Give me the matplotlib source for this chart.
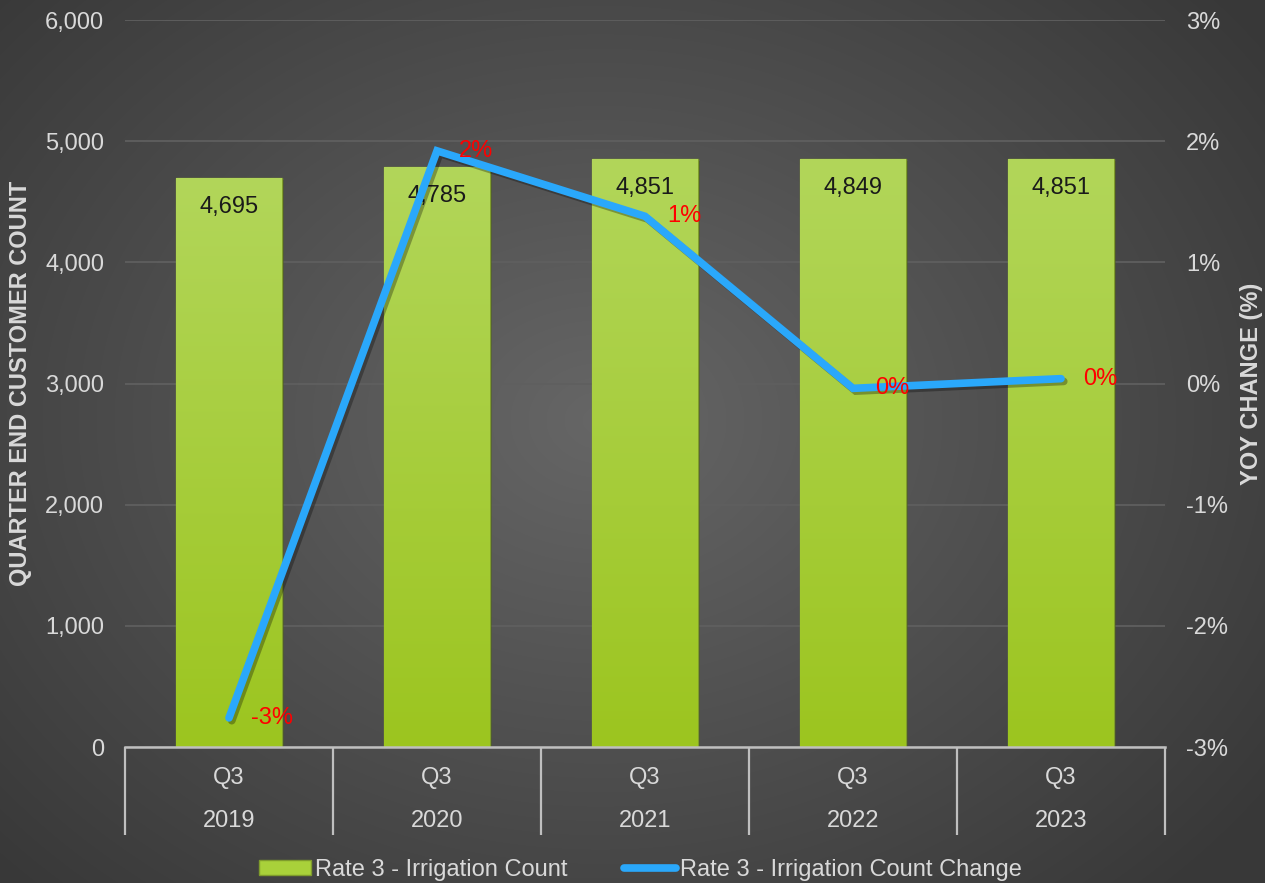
import numpy as np
import matplotlib
matplotlib.use("Agg")
import matplotlib.pyplot as plt
from matplotlib import patheffects as pe
from matplotlib.colors import LinearSegmentedColormap
from matplotlib.lines import Line2D
from matplotlib.patches import Patch
from matplotlib.ticker import FuncFormatter, MultipleLocator

# ---- data ----
quarters = ["Q3", "Q3", "Q3", "Q3", "Q3"]
years = ["2019", "2020", "2021", "2022", "2023"]
counts = [4695, 4785, 4851, 4849, 4851]
yoy_change = [-2.76, 1.92, 1.38, -0.04, 0.04]   # percent
bar_label = "Rate 3 - Irrigation Count"
line_label = "Rate 3 - Irrigation Count Change"

plt.rcParams['font.family'] = ['Liberation Sans', 'DejaVu Sans']

TXT = "#d9d9d9"
GRID = "#5f5f5f"
AXLINE = "#bfbfbf"
BLUE = "#2aa8fb"
RED = "#ff0000"
FS = 17

W, H = 1265, 883
fig = plt.figure(figsize=(W / 100, H / 100), dpi=100)

# radial background
bg = fig.add_axes([0, 0, 1, 1], zorder=-10)
yy, xx = np.mgrid[0:H, 0:W]
r = np.hypot((xx - 600) / 780.0, (yy - 420) / 620.0)
shade = np.clip(0.40 - 0.17 * r, 0.22, 0.42)
bg.imshow(np.dstack([shade] * 3), aspect='auto', extent=[0, 1, 0, 1])
bg.set_axis_off()

L, R, T, B = 125, 1165, 20, 747
ax = fig.add_axes([L / W, (H - B) / H, (R - L) / W, (B - T) / H])
ax.patch.set_alpha(0)
for s in ax.spines.values():
    s.set_visible(False)

x = np.arange(len(counts))
width = 0.505
bars = ax.bar(x, counts, width=width, color="#a9d13a", edgecolor="#7f9c2c",
              linewidth=1.0, zorder=2)

# vertical gradient fill for each bar
green = LinearSegmentedColormap.from_list("g", ["#9cc51f", "#b2d65a"])
grad = np.linspace(0, 1, 256).reshape(-1, 1)
for xi, b in zip(x, bars):
    im = ax.imshow(grad, cmap=green, origin='lower', aspect='auto',
                   extent=[xi - width / 2, xi + width / 2, 0, b.get_height()],
                   zorder=2.1)
    im.set_clip_path(b)
    b.set_path_effects([pe.SimplePatchShadow(offset=(2, -1), alpha=0.35), pe.Normal()])

for xi, c in zip(x, counts):
    ax.annotate(f"{c:,}", xy=(xi, c), xytext=(0, -29), textcoords='offset pixels',
                ha='center', va='center', fontsize=FS, color="#1a1a1a", zorder=3)

ax.set_xlim(-0.5, len(counts) - 0.5)
ax.set_ylim(0, 6000)
ax.yaxis.set_major_locator(MultipleLocator(1000))
ax.yaxis.set_major_formatter(FuncFormatter(lambda v, p: f"{int(v):,}"))
ax.grid(axis='y', color=GRID, linewidth=1.3, zorder=0)
ax.set_axisbelow(True)
ax.tick_params(axis='y', length=0, pad=15, labelsize=FS, labelcolor=TXT)

# category axis: separators and two-level labels
ax.set_xticks(x)
ax.set_xticklabels([])
ax.tick_params(axis='x', which='major', length=0)
ax.set_xticks(np.arange(len(counts) + 1) - 0.5, minor=True)
ax.tick_params(axis='x', which='minor', length=63, width=1.6, color=AXLINE, direction='out')
ax.axhline(0, color=AXLINE, linewidth=1.8, zorder=4, clip_on=False)
for xi, q, yr in zip(x, quarters, years):
    ax.annotate(q, xy=(xi, 0), xycoords=('data', 'axes fraction'), xytext=(0, -31),
                textcoords='offset pixels', ha='center', va='center', fontsize=FS, color=TXT)
    ax.annotate(yr, xy=(xi, 0), xycoords=('data', 'axes fraction'), xytext=(0, -74),
                textcoords='offset pixels', ha='center', va='center', fontsize=FS, color=TXT)

ax.set_ylabel("QUARTER END CUSTOMER COUNT", fontsize=FS, fontweight='bold', color=TXT)
ax.yaxis.set_label_coords(-0.089, 0.5)

# secondary axis: YoY change line
ax2 = ax.twinx()
ax2.patch.set_alpha(0)
for s in ax2.spines.values():
    s.set_visible(False)
ax2.plot(x, yoy_change, color=BLUE, linewidth=5.5, solid_capstyle='round',
         solid_joinstyle='miter', zorder=5,
         path_effects=[pe.SimpleLineShadow(offset=(2, -2), alpha=0.3), pe.Normal()])
for xi, v in zip(x, yoy_change):
    ax2.annotate(f"{int(round(v))}%", xy=(xi, v), xytext=(22, 0), textcoords='offset pixels',
                 ha='left', va='center', fontsize=FS, color=RED, zorder=6)
ax2.set_ylim(-3, 3)
ax2.yaxis.set_major_locator(MultipleLocator(1))
ax2.yaxis.set_major_formatter(FuncFormatter(lambda v, p: f"{int(round(v))}%"))
ax2.tick_params(axis='y', length=0, pad=15, labelsize=FS, labelcolor=TXT)
ax2.set_ylabel("YOY CHANGE (%)", fontsize=FS, fontweight='bold', color=TXT)
ax2.yaxis.set_label_coords(1.072, 0.5)

handles = [Patch(facecolor="#a9d13a", edgecolor="#7f9c2c", label=bar_label),
           Line2D([0], [0], color=BLUE, linewidth=5.5, solid_capstyle='round', label=line_label)]
leg = fig.legend(handles=handles, loc='center', bbox_to_anchor=(0.5 + 8 / W, 13 / H), ncol=2,
                 frameon=False, fontsize=FS, labelcolor=TXT, handlelength=2.2,
                 handleheight=0.6, handletextpad=0.15, columnspacing=2.4)

fig.savefig("out.png", dpi=100)
